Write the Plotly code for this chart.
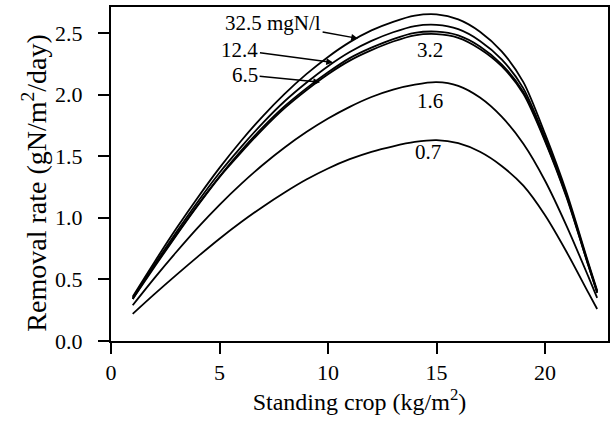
import plotly.graph_objects as go

x_vals = [1, 2, 3, 4, 5, 6, 7, 8, 9, 10, 11, 12, 13, 14, 15, 16, 17, 18, 19, 20, 21, 22, 22.4]

y_32_5 = [0.36, 0.64, 0.91, 1.165, 1.405, 1.625, 1.825, 2.005, 2.165, 2.305, 2.425, 2.52, 2.59, 2.64, 2.65, 2.61, 2.51, 2.35, 2.10, 1.68, 1.20, 0.63, 0.41]
y_12_4 = [0.35, 0.62, 0.88, 1.13, 1.365, 1.575, 1.77, 1.945, 2.095, 2.23, 2.345, 2.435, 2.505, 2.555, 2.565, 2.53, 2.435, 2.285, 2.05, 1.65, 1.18, 0.62, 0.40]
y_6_5 = [0.34, 0.61, 0.86, 1.105, 1.335, 1.545, 1.735, 1.905, 2.05, 2.18, 2.295, 2.38, 2.45, 2.50, 2.51, 2.48, 2.39, 2.245, 2.02, 1.63, 1.17, 0.61, 0.40]
y_3_2 = [0.34, 0.60, 0.855, 1.10, 1.33, 1.53, 1.72, 1.89, 2.035, 2.165, 2.275, 2.36, 2.43, 2.48, 2.49, 2.46, 2.37, 2.23, 2.005, 1.62, 1.16, 0.61, 0.39]
y_1_6 = [0.29, 0.51, 0.72, 0.92, 1.105, 1.275, 1.43, 1.57, 1.695, 1.805, 1.90, 1.98, 2.04, 2.08, 2.10, 2.07, 1.975, 1.82, 1.60, 1.30, 0.93, 0.52, 0.35]
y_0_7 = [0.22, 0.38, 0.535, 0.685, 0.83, 0.965, 1.09, 1.205, 1.31, 1.40, 1.475, 1.535, 1.58, 1.615, 1.63, 1.605, 1.535, 1.42, 1.26, 1.02, 0.72, 0.39, 0.26]

series = [y_32_5, y_12_4, y_6_5, y_3_2, y_1_6, y_0_7]

x_ticks = [0, 5, 10, 15, 20]
y_ticks = [0.0, 0.5, 1.0, 1.5, 2.0, 2.5]
y_tick_text = ["0.0", "0.5", "1.0", "1.5", "2.0", "2.5"]

# annotation labels
arrow_labels = ["32.5 mgN/l", "12.4", "6.5"]
arrow_tips_x = [11.38, 10.23, 9.63]
arrow_tips_y = [2.455, 2.26, 2.10]
arrow_text_x = [7.47, 5.94, 6.18]
arrow_text_y = [2.58, 2.36, 2.16]

plain_labels = ["3.2", "1.6", "0.7"]
plain_x = [14.7, 14.7, 14.6]
plain_y = [2.36, 1.95, 1.53]

x_title = "Standing crop (kg/m<sup>2</sup>)"
y_title = "Removal rate (gN/m<sup>2</sup>/day)"

FONT = "Liberation Serif, Times New Roman, serif"

fig = go.Figure()
for ys in series:
    fig.add_trace(go.Scatter(
        x=x_vals, y=ys, mode="lines",
        line=dict(color="black", width=1.8, shape="spline", smoothing=0.8),
        showlegend=False, hoverinfo="skip",
    ))

for t, tx, ty, ax, ay in zip(arrow_labels, arrow_tips_x, arrow_tips_y, arrow_text_x, arrow_text_y):
    fig.add_annotation(
        x=tx, y=ty, ax=ax, ay=ay, axref="x", ayref="y", xref="x", yref="y",
        text=t, showarrow=True, arrowhead=2, arrowsize=0.9, arrowwidth=1.5,
        arrowcolor="black", standoff=0, startstandoff=0,
        font=dict(family=FONT, size=21, color="black"),
    )

for t, px, py in zip(plain_labels, plain_x, plain_y):
    fig.add_annotation(
        x=px, y=py, xref="x", yref="y", text=t, showarrow=False,
        font=dict(family=FONT, size=21, color="black"),
    )

# y-axis title as a rotated annotation for exact placement
fig.add_annotation(
    x=-0.153, y=0.474, xref="paper", yref="paper", text=y_title, textangle=-90,
    showarrow=False, xanchor="center", yanchor="middle",
    font=dict(family=FONT, size=28, color="black"),
)

fig.update_layout(
    width=613, height=421,
    margin=dict(l=111, r=5, t=7, b=80),
    paper_bgcolor="white", plot_bgcolor="white",
    font=dict(family=FONT, color="black"),
)
fig.update_xaxes(
    range=[0, 22.9], tickvals=x_ticks, ticks="outside", ticklen=11, tickwidth=1.5,
    tickcolor="black", showline=True, linecolor="black", linewidth=2, mirror=True,
    showgrid=False, zeroline=False, automargin=False,
    tickfont=dict(family=FONT, size=22, color="black"),
    title=dict(text=x_title, font=dict(family=FONT, size=24, color="black"), standoff=4),
)
fig.update_yaxes(
    range=[0, 2.71], tickvals=y_ticks, ticktext=y_tick_text, ticks="outside", ticklen=11, tickwidth=1.5,
    tickcolor="black", showline=True, linecolor="black", linewidth=2, mirror=True,
    showgrid=False, zeroline=False, automargin=False, ticklabelstandoff=11,
    tickfont=dict(family=FONT, size=22, color="black"),
)

fig.write_html(
    "out.html",
    config={"displayModeBar": False},
    post_script="document.documentElement.style.margin='0';document.body.style.margin='0';"
                "document.documentElement.style.overflow='hidden';",
)
